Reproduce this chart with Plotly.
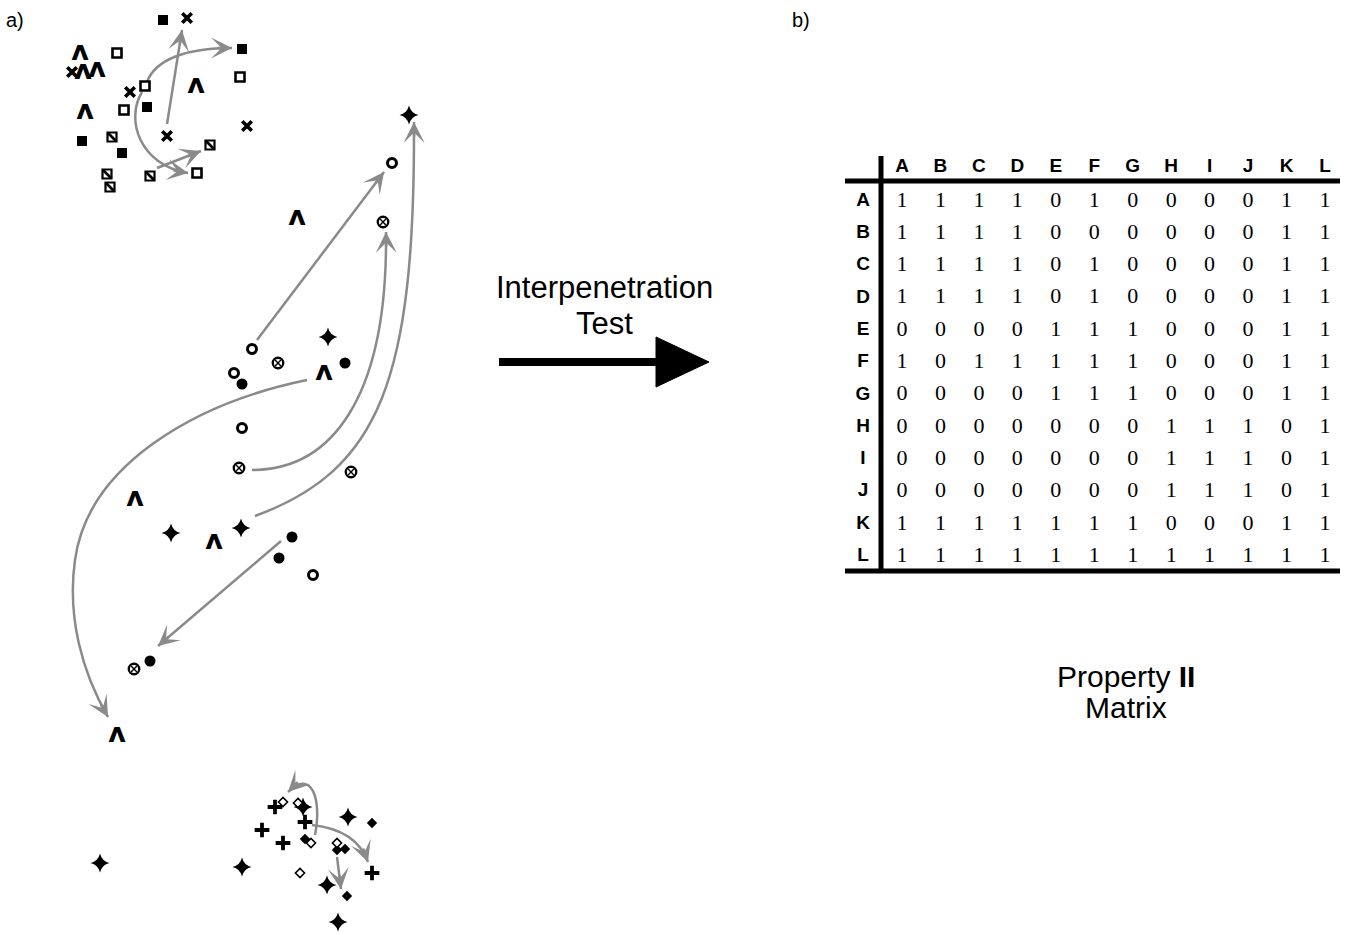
import plotly.graph_objects as go

W, H = 1349, 934

# ---------------- point data (pixel space of the diagram) ----------------
filled_square_x = [163, 242, 147, 82, 122]
filled_square_y = [20, 49, 107, 141, 153]
open_square_x = [117, 240, 145, 124, 197]
open_square_y = [53, 77, 86, 110, 173]
hatched_square_x = [112, 210, 107, 110, 150]
hatched_square_y = [137, 145, 174, 187, 176]
cross_x = [187, 72, 130, 167, 247]
cross_y = [18, 72, 92, 136, 126]
caret_x = [80, 83, 97, 196, 85, 297, 324, 135, 214, 117]
caret_y = [53, 72, 70, 86, 112, 218, 373, 499, 542, 735]
star_x = [409, 328, 171, 241, 100, 303, 348, 242, 327, 338]
star_y = [115, 337, 533, 528, 863, 807, 817, 867, 885, 922]
open_circle_x = [392, 252, 234, 242, 313]
open_circle_y = [163, 349, 373, 428, 575]
circle_x_x = [383, 278, 239, 351, 134]
circle_x_y = [222, 363, 468, 472, 669]
filled_circle_x = [345, 242, 292, 279, 150]
filled_circle_y = [363, 384, 537, 558, 661]
plus_x = [275, 305, 262, 283, 372]
plus_y = [807, 822, 830, 843, 873]
filled_diamond_x = [372, 305, 337, 345, 347]
filled_diamond_y = [823, 839, 850, 849, 896]
open_diamond_x = [283, 298, 311, 337, 300]
open_diamond_y = [802, 803, 843, 843, 873]

# straight gray arrows: (tail, tip)
straight_arrows = [
    ((167, 124), (182, 30)),
    ((157, 168), (201, 151)),
    ((257, 340), (384, 172)),
    ((281, 541), (158, 646)),
    ((337, 857), (341, 889)),
]
# curved gray arrows: list of cubic segments (P0, P1, P2, P3); head at last point
curved_arrows = [
    [((147, 82), (155, 60), (185, 48), (232, 48))],
    [((142, 92), (125, 120), (140, 165), (188, 173))],
    [((252, 470), (330, 470), (388, 400), (386, 232))],
    [((255, 516), (380, 470), (415, 380), (414, 122))],
    [((307, 380), (195, 403), (88, 465), (75, 560)),
     ((75, 560), (67, 617), (82, 672), (108, 717))],
    [((315, 835), (322, 800), (312, 768), (288, 792))],
    [((312, 825), (340, 828), (360, 840), (368, 862))],
]

# ---------------- matrix data ----------------
matrix_labels = list("ABCDEFGHIJKL")
matrix_values = [
    [1, 1, 1, 1, 0, 1, 0, 0, 0, 0, 1, 1],
    [1, 1, 1, 1, 0, 0, 0, 0, 0, 0, 1, 1],
    [1, 1, 1, 1, 0, 1, 0, 0, 0, 0, 1, 1],
    [1, 1, 1, 1, 0, 1, 0, 0, 0, 0, 1, 1],
    [0, 0, 0, 0, 1, 1, 1, 0, 0, 0, 1, 1],
    [1, 0, 1, 1, 1, 1, 1, 0, 0, 0, 1, 1],
    [0, 0, 0, 0, 1, 1, 1, 0, 0, 0, 1, 1],
    [0, 0, 0, 0, 0, 0, 0, 1, 1, 1, 0, 1],
    [0, 0, 0, 0, 0, 0, 0, 1, 1, 1, 0, 1],
    [0, 0, 0, 0, 0, 0, 0, 1, 1, 1, 0, 1],
    [1, 1, 1, 1, 1, 1, 1, 0, 0, 0, 1, 1],
    [1, 1, 1, 1, 1, 1, 1, 1, 1, 1, 1, 1],
]

GRAY = "#8a8a8a"
BLACK = "black"

fig = go.Figure()


def add_markers(xs, ys, symbol, size, fill, line_w, line_color=BLACK):
    fig.add_trace(go.Scatter(
        x=xs, y=ys, mode="markers", hoverinfo="skip", showlegend=False,
        marker=dict(symbol=symbol, size=size, color=fill,
                    line=dict(color=line_color, width=line_w)),
    ))


HEAD = dict(arrowhead=3, arrowsize=1.4, arrowwidth=2.5, arrowcolor=GRAY)

shapes = []
annotations = []
for segs in curved_arrows:
    p = "M %s,%s" % segs[0][0]
    for (_, c1, c2, e) in segs:
        p += " C %s,%s %s,%s %s,%s" % (c1 + c2 + e)
    shapes.append(dict(type="path", path=p, xref="x", yref="y", layer="below",
                       line=dict(color=GRAY, width=2.5)))
    _, _, c2, e = segs[-1]
    dx, dy = e[0] - c2[0], e[1] - c2[1]
    n = (dx * dx + dy * dy) ** 0.5
    tail = (e[0] - dx / n * 16, e[1] - dy / n * 16)
    annotations.append(dict(x=e[0], y=e[1], ax=tail[0], ay=tail[1], xref="x", yref="y",
                            axref="x", ayref="y", text="", showarrow=True, **HEAD))

for tail, tip in straight_arrows:
    shapes.append(dict(type="line", x0=tail[0], y0=tail[1], x1=tip[0], y1=tip[1],
                       xref="x", yref="y", layer="below", line=dict(color=GRAY, width=2.5)))
    dx, dy = tip[0] - tail[0], tip[1] - tail[1]
    n = (dx * dx + dy * dy) ** 0.5
    t2 = (tip[0] - dx / n * 16, tip[1] - dy / n * 16)
    annotations.append(dict(x=tip[0], y=tip[1], ax=t2[0], ay=t2[1], xref="x", yref="y",
                            axref="x", ayref="y", text="", showarrow=True, **HEAD))

# markers
add_markers(filled_square_x, filled_square_y, "square", 10, BLACK, 0)
add_markers(open_square_x, open_square_y, "square", 9, "white", 2.6)
add_markers(hatched_square_x, hatched_square_y, "square", 9, "white", 2.2)
add_markers(hatched_square_x, hatched_square_y, "line-nw", 8, BLACK, 2.6)
add_markers(cross_x, cross_y, "x-thin", 9.5, BLACK, 3.6)
add_markers(star_x, star_y, "star-diamond", 13.5, BLACK, 0)
add_markers(open_circle_x, open_circle_y, "circle", 9, "white", 3)
add_markers(circle_x_x, circle_x_y, "circle", 10.5, "white", 2.3)
add_markers(circle_x_x, circle_x_y, "x-thin", 5.8, BLACK, 1.4)
add_markers(filled_circle_x, filled_circle_y, "circle", 11, BLACK, 0)
add_markers(plus_x, plus_y, "cross-thin", 10.5, BLACK, 3.8)
add_markers(filled_diamond_x, filled_diamond_y, "diamond", 8, BLACK, 0)
add_markers(open_diamond_x, open_diamond_y, "diamond", 7, "white", 1.6)

# caret marks (bold turned-v glyph)
fig.add_trace(go.Scatter(
    x=caret_x, y=caret_y, mode="text", text=["ʌ"] * len(caret_x),
    textposition="middle center", hoverinfo="skip", showlegend=False,
    textfont=dict(family="DejaVu Sans", size=27, color=BLACK, weight="bold"),
))

# ---------------- matrix ----------------
col0, dcol = 902, 38.45
row0, drow = 201, 32.3
mx, my, mt = [], [], []
for i, row in enumerate(matrix_values):
    for j, v in enumerate(row):
        mx.append(col0 + j * dcol)
        my.append(row0 + i * drow)
        mt.append(str(v))
fig.add_trace(go.Scatter(
    x=mx, y=my, mode="text", text=mt, textposition="middle center",
    hoverinfo="skip", showlegend=False,
    textfont=dict(family="Liberation Serif", size=22, color=BLACK),
))
fig.add_trace(go.Scatter(
    x=[col0 + j * dcol for j in range(len(matrix_labels))],
    y=[167] * len(matrix_labels), mode="text", text=matrix_labels,
    textposition="middle center", hoverinfo="skip", showlegend=False,
    textfont=dict(family="Liberation Sans", size=19, color=BLACK, weight="bold"),
))
fig.add_trace(go.Scatter(
    x=[863] * len(matrix_labels),
    y=[row0 + i * drow for i in range(len(matrix_labels))], mode="text",
    text=matrix_labels, textposition="middle center", hoverinfo="skip", showlegend=False,
    textfont=dict(family="Liberation Sans", size=19, color=BLACK, weight="bold"),
))

shapes += [
    dict(type="line", x0=845, x1=1340, y0=181, y1=181, xref="x", yref="y",
         line=dict(color=BLACK, width=5)),
    dict(type="line", x0=845, x1=1340, y0=571, y1=571, xref="x", yref="y",
         line=dict(color=BLACK, width=5)),
    dict(type="line", x0=881, x1=881, y0=156, y1=573, xref="x", yref="y",
         line=dict(color=BLACK, width=5)),
    # big black arrow
    dict(type="line", x0=499, x1=665, y0=362, y1=362, xref="x", yref="y",
         line=dict(color=BLACK, width=8)),
    dict(type="path", path="M 656,337 L 709,362 L 656,387 Z", xref="x", yref="y",
         fillcolor=BLACK, line=dict(color=BLACK, width=1)),
]

txt = dict(family="Liberation Sans", color=BLACK)
annotations += [
    dict(x=15, y=20, text="a)", showarrow=False, xref="x", yref="y",
         font=dict(size=20, **txt)),
    dict(x=801, y=20, text="b)", showarrow=False, xref="x", yref="y",
         font=dict(size=20, **txt)),
    dict(x=604, y=287, text="Interpenetration", showarrow=False, xref="x", yref="y",
         font=dict(size=31, **txt)),
    dict(x=604, y=323, text="Test", showarrow=False, xref="x", yref="y",
         font=dict(size=31, **txt)),
    dict(x=1126, y=676, text="Property <b>II</b>", showarrow=False, xref="x", yref="y",
         font=dict(size=30, **txt)),
    dict(x=1126, y=707, text="Matrix", showarrow=False, xref="x", yref="y",
         font=dict(size=30, **txt)),
]

fig.update_layout(
    width=W, height=H, margin=dict(l=0, r=0, t=0, b=0),
    paper_bgcolor="white", plot_bgcolor="white",
    xaxis=dict(range=[0, W], visible=False, fixedrange=True),
    yaxis=dict(range=[H, 0], visible=False, fixedrange=True),
    shapes=shapes, annotations=annotations, showlegend=False,
)

fig.write_html(
    "out.html",
    config={"displayModeBar": False},
    post_script="document.body.style.margin='0';document.body.style.overflow='hidden';",
)
